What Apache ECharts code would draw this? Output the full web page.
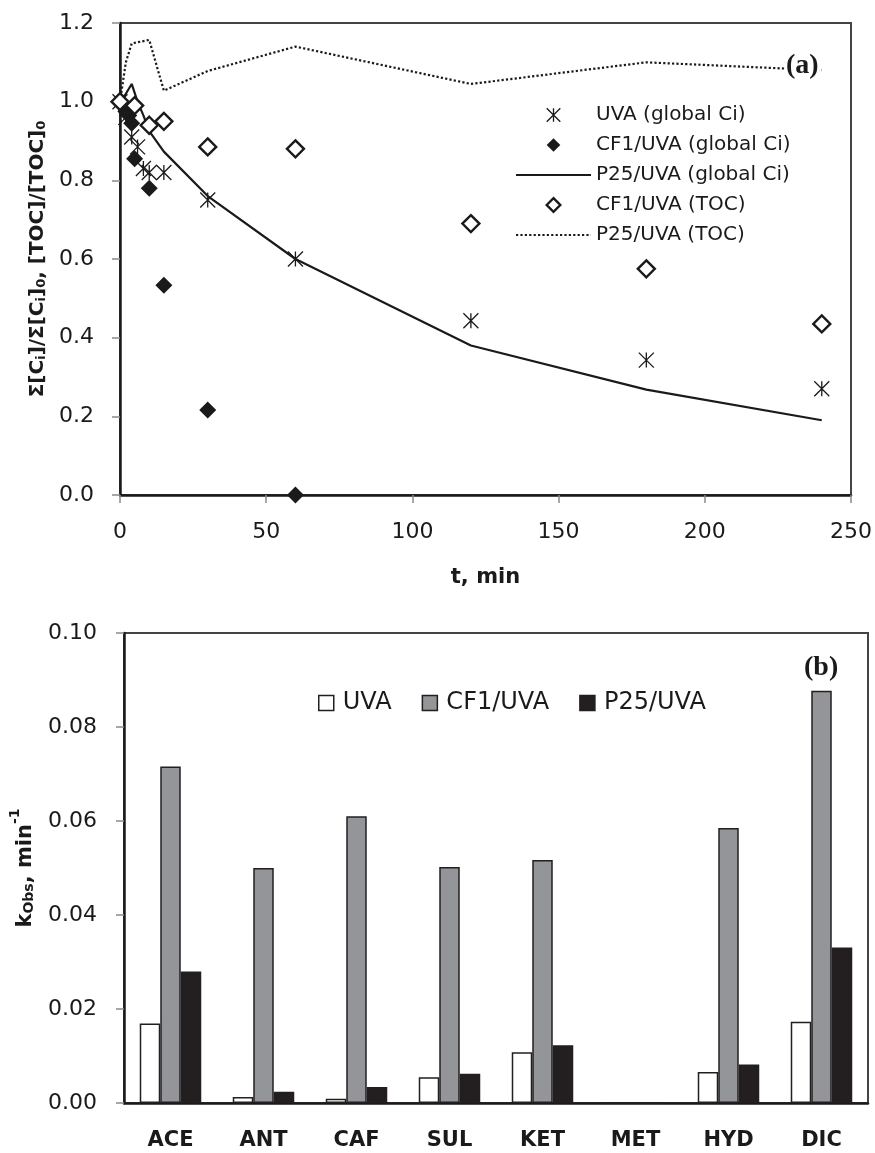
<!DOCTYPE html>
<html>
<head>
<meta charset="utf-8">
<script src="https://cdn.jsdelivr.net/npm/echarts@6/dist/echarts.min.js"></script>
<style>
  html, body { margin: 0; padding: 0; background: #fff; }
  #chart { width: 875px; height: 1153px; }
</style>
</head>
<body>
<div id="chart"></div>
<script>
// ---- Panel (a): normalised concentration / TOC vs time ----
const tUVA = [0, 2, 4, 6, 8, 10, 15, 30, 60, 120, 180, 240];
const cUVA = [1.0, 0.96, 0.91, 0.885, 0.83, 0.82, 0.82, 0.75, 0.60, 0.443, 0.343, 0.27];

const tCF1 = [0, 2, 3, 4, 5, 10, 15, 30, 60];
const cCF1 = [1.0, 0.975, 0.965, 0.945, 0.855, 0.78, 0.533, 0.216, 0.0];

const tP25 = [0, 2, 4, 6, 8, 10, 15, 30, 60, 120, 180, 240];
const cP25 = [1.0, 1.02, 1.045, 1.0, 0.965, 0.925, 0.873, 0.76, 0.60, 0.38, 0.268, 0.19];

const tTocCF1 = [0, 5, 10, 15, 30, 60, 120, 180, 240];
const vTocCF1 = [1.0, 0.99, 0.94, 0.95, 0.885, 0.88, 0.69, 0.575, 0.435];

const tTocP25 = [0, 2, 4, 10, 15, 30, 60, 120, 180, 240];
const vTocP25 = [1.0, 1.10, 1.148, 1.157, 1.028, 1.078, 1.14, 1.045, 1.10, 1.08];

const yTicksA = ['0.0', '0.2', '0.4', '0.6', '0.8', '1.0', '1.2'];
const xTicksA = ['0', '50', '100', '150', '200', '250'];

// ---- Panel (b): observed rate constants ----
const compounds = ['ACE', 'ANT', 'CAF', 'SUL', 'KET', 'MET', 'HYD', 'DIC'];
const kUVA = [0.0169, 0.0013, 0.0009, 0.0055, 0.0108, 0, 0.0066, 0.0173];
const kCF1 = [0.0716, 0.0500, 0.0610, 0.0502, 0.0517, 0, 0.0585, 0.0877];
const kP25 = [0.0280, 0.0024, 0.0034, 0.0062, 0.0123, 0, 0.0082, 0.0331];
const yTicksB = ['0.00', '0.02', '0.04', '0.06', '0.08', '0.10'];

const pairs = (xs, ys) => xs.map((x, i) => [x, ys[i]]);

const SANS = 'DejaVu Sans';
const INK = '#1a1a1a';
const ASTERISK = 'path://M0,0L14,14M14,0L0,14M7,0L7,14';

const axisLineStyle = { color: INK, width: 2.5 };
const tickStyle = { show: true, inside: false, length: 8, lineStyle: { color: '#8a8a8a', width: 1.5 } };
const tickFont = { fontFamily: SANS, fontSize: 22, color: INK };

// marker-only series: drawn as line series with an invisible connecting line
const markerSeries = (name, data, symbol, size, itemStyle) => ({
  name, type: 'line', xAxisIndex: 0, yAxisIndex: 0, data,
  symbol, symbolSize: size, symbolKeepAspect: true, showSymbol: true, showAllSymbol: true, z: 3,
  lineStyle: { opacity: 0, width: 1 },
  itemStyle: Object.assign({ opacity: 1 }, itemStyle)
});

const chart = echarts.init(document.getElementById('chart'), null, { renderer: 'canvas' });

chart.setOption({
  animation: false,
  backgroundColor: '#fff',
  title: [
    {
      text: '(a)', left: 786, top: 52, padding: [0, 1, 0, 0], backgroundColor: '#fff',
      textStyle: { fontFamily: 'Liberation Serif', fontWeight: 'bold', fontSize: 28, color: INK }
    },
    {
      text: '(b)', left: 804, top: 654, padding: 0,
      textStyle: { fontFamily: 'Liberation Serif', fontWeight: 'bold', fontSize: 28, color: INK }
    }
  ],
  grid: [
    { left: 120, top: 23, width: 732, height: 472, show: true, borderColor: '#444', borderWidth: 2, backgroundColor: 'transparent' },
    { left: 124, top: 633, width: 744, height: 470, show: true, borderColor: '#444', borderWidth: 2, backgroundColor: 'transparent' }
  ],
  legend: [
    {
      data: [
        { name: 'UVA (global Ci)' },
        { name: 'CF1/UVA (global Ci)' },
        { name: 'P25/UVA (global Ci)', itemStyle: { opacity: 0 } },
        { name: 'CF1/UVA (TOC)' },
        { name: 'P25/UVA (TOC)', itemStyle: { opacity: 0 } }
      ],
      orient: 'vertical', left: 515, top: 104, padding: 0,
      itemWidth: 75, itemHeight: 17, itemGap: 8,
      itemStyle: { borderWidth: 'inherit' },
      textStyle: { fontFamily: SANS, fontSize: 20, lineHeight: 22, color: INK }
    },
    {
      data: ['UVA', 'CF1/UVA', 'P25/UVA'],
      orient: 'horizontal', left: 318, top: 691, padding: 0,
      itemWidth: 15, itemHeight: 15, itemGap: 30, icon: 'rect',
      itemStyle: { borderWidth: 'inherit' },
      textStyle: { fontFamily: SANS, fontSize: 24, color: INK, padding: [0, 0, 0, 4] }
    }
  ],
  xAxis: [
    {
      type: 'value', gridIndex: 0, min: 0, max: 250, interval: 50,
      axisLine: { show: true, onZero: false, lineStyle: axisLineStyle },
      axisTick: tickStyle,
      splitLine: { show: false },
      axisLabel: Object.assign({ margin: 26, formatter: v => xTicksA[Math.round(v / 50)] }, tickFont),
      name: 't, min', nameLocation: 'middle', nameGap: 72,
      nameTextStyle: { fontFamily: SANS, fontWeight: 'bold', fontSize: 21, color: INK }
    },
    {
      type: 'category', gridIndex: 1, data: compounds,
      axisLine: { show: true, lineStyle: axisLineStyle },
      axisTick: { show: false },
      splitLine: { show: false },
      axisLabel: { margin: 27, fontFamily: SANS, fontWeight: 'bold', fontSize: 21, color: INK }
    }
  ],
  yAxis: [
    {
      type: 'value', gridIndex: 0, min: 0, max: 1.2, interval: 0.2,
      axisLine: { show: true, onZero: false, lineStyle: axisLineStyle },
      axisTick: tickStyle,
      splitLine: { show: false },
      axisLabel: Object.assign({ margin: 26, formatter: v => yTicksA[Math.round(v / 0.2)] }, tickFont),
      name: '{b|Σ[C}{s|i}{b|]/Σ[C}{s|i}{b|]}{s|0}{b|, [TOC]/[TOC]}{s|0}',
      nameLocation: 'middle', nameGap: 70, nameRotate: 90,
      nameTextStyle: {
        rich: {
          b: { fontFamily: SANS, fontWeight: 'bold', fontSize: 20, lineHeight: 28, verticalAlign: 'bottom', color: INK },
          s: { fontFamily: SANS, fontWeight: 'bold', fontSize: 13, lineHeight: 12, verticalAlign: 'bottom', color: INK }
        }
      }
    },
    {
      type: 'value', gridIndex: 1, min: 0, max: 0.1, interval: 0.02,
      axisLine: { show: true, lineStyle: axisLineStyle },
      axisTick: tickStyle,
      splitLine: { show: false },
      axisLabel: Object.assign({ margin: 27, formatter: v => yTicksB[Math.round(v / 0.02)] }, tickFont),
      name: '{b|k}{s|Obs}{b|, min}{p|-1}',
      nameLocation: 'middle', nameGap: 88, nameRotate: 90,
      nameTextStyle: {
        rich: {
          b: { fontFamily: SANS, fontWeight: 'bold', fontSize: 21, lineHeight: 28, verticalAlign: 'bottom', color: INK },
          s: { fontFamily: SANS, fontWeight: 'bold', fontSize: 14, lineHeight: 12, verticalAlign: 'bottom', color: INK },
          p: { fontFamily: SANS, fontWeight: 'bold', fontSize: 14, lineHeight: 14, verticalAlign: 'top', color: INK }
        }
      }
    }
  ],
  series: [
    {
      name: 'P25/UVA (global Ci)', type: 'line', xAxisIndex: 0, yAxisIndex: 0,
      data: pairs(tP25, cP25), symbol: 'none', z: 2,
      lineStyle: { color: INK, width: 2.2 }, itemStyle: { color: INK }
    },
    {
      name: 'P25/UVA (TOC)', type: 'line', xAxisIndex: 0, yAxisIndex: 0,
      data: pairs(tTocP25, vTocP25), symbol: 'none', z: 2,
      lineStyle: { color: INK, width: 2.2, type: [2.2, 2.2] }, itemStyle: { color: INK }
    },
    markerSeries('UVA (global Ci)', pairs(tUVA, cUVA), ASTERISK, 15,
      { color: INK, borderColor: INK, borderWidth: 1.3 }),
    markerSeries('CF1/UVA (global Ci)', pairs(tCF1, cCF1), 'diamond', 17,
      { color: INK, borderColor: INK, borderWidth: 0 }),
    markerSeries('CF1/UVA (TOC)', pairs(tTocCF1, vTocCF1), 'diamond', 17,
      { color: '#fff', borderColor: INK, borderWidth: 2.4 }),
    {
      name: 'UVA', type: 'bar', xAxisIndex: 1, yAxisIndex: 1, data: kUVA,
      barWidth: 20.5, barGap: '0%',
      itemStyle: { color: '#fff', borderColor: '#231f20', borderWidth: 1.5 }
    },
    {
      name: 'CF1/UVA', type: 'bar', xAxisIndex: 1, yAxisIndex: 1, data: kCF1,
      barWidth: 20.5, barGap: '0%',
      itemStyle: { color: '#939598', borderColor: '#231f20', borderWidth: 1.5 }
    },
    {
      name: 'P25/UVA', type: 'bar', xAxisIndex: 1, yAxisIndex: 1, data: kP25,
      barWidth: 20.5, barGap: '0%',
      itemStyle: { color: '#231f20', borderColor: '#231f20', borderWidth: 1.5 }
    }
  ]
});
</script>
</body>
</html>
